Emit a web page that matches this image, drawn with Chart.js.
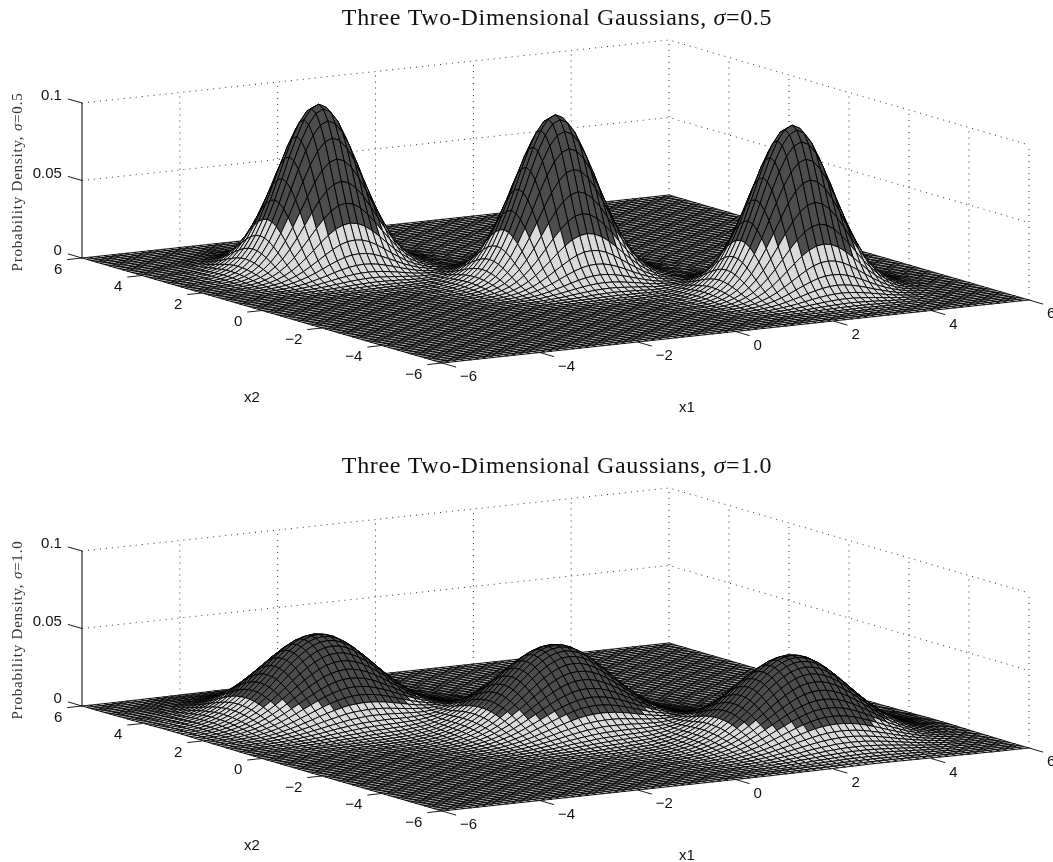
<!DOCTYPE html>
<html>
<head>
<meta charset="utf-8">
<title>Three Two-Dimensional Gaussians</title>
<script src="https://cdn.jsdelivr.net/npm/chart.js@4/dist/chart.umd.min.js"></script>
<style>
  body { margin: 0; background: #fff; width: 1053px; height: 862px; overflow: hidden; }
  canvas { display: block; }
</style>
</head>
<body>
<canvas id="panel1" width="1053" height="431"></canvas>
<canvas id="panel2" width="1053" height="431"></canvas>
<script>
const gridValues = [-6,-5.85,-5.7,-5.55,-5.4,-5.25,-5.1,-4.95,-4.8,-4.65,-4.5,-4.35,-4.2,-4.05,-3.9,-3.75,-3.6,-3.45,-3.3,-3.15,-3,-2.85,-2.7,-2.55,-2.4,-2.25,-2.1,-1.95,-1.8,-1.65,-1.5,-1.35,-1.2,-1.05,-0.9,-0.75,-0.6,-0.45,-0.3,-0.15,0,0.15,0.3,0.45,0.6,0.75,0.9,1.05,1.2,1.35,1.5,1.65,1.8,1.95,2.1,2.25,2.4,2.55,2.7,2.85,3,3.15,3.3,3.45,3.6,3.75,3.9,4.05,4.2,4.35,4.5,4.65,4.8,4.95,5.1,5.25,5.4,5.55,5.7,5.85,6];
const x1Ticks = [-6,-4,-2,0,2,4,6];
const x2Ticks = [-6,-4,-2,0,2,4,6];
const zTicks = [0,0.05,0.1];
const zTickLabels = ["0","0.05","0.1"];

// where the three peaks stand on the floor
const peakX1 = [-3,0,3];
const peakX2 = [3,0,-3];

// height of one peak (thousandths), one quadrant at 0.15 steps from its centre.
// anything past the end of a row is flat floor
const bumpSigma05 = [
  [106,103.6,96.9,86.6,74,60.4,47.2,35.2,25.1,17.1,11.2,7,4.2,2.4,1.3,0.7,0.3,0.2],
  [103.6,101.3,94.7,84.6,72.3,59,46.1,34.4,24.6,16.8,10.9,6.8,4.1,2.3,1.2,0.6,0.3,0.2],
  [96.9,94.7,88.6,79.1,67.6,55.2,43.1,32.2,23,15.7,10.2,6.4,3.8,2.1,1.2,0.6,0.3,0.1],
  [86.6,84.6,79.1,70.8,60.4,49.4,38.5,28.8,20.5,14,9.1,5.7,3.4,1.9,1,0.5,0.3,0.1],
  [74,72.3,67.6,60.4,51.6,42.2,32.9,24.6,17.5,12,7.8,4.9,2.9,1.6,0.9,0.4,0.2,0.1],
  [60.4,59,55.2,49.4,42.2,34.4,26.9,20.1,14.3,9.8,6.3,4,2.4,1.3,0.7,0.4,0.2,0.1],
  [47.2,46.1,43.1,38.5,32.9,26.9,21,15.7,11.2,7.6,5,3.1,1.8,1,0.6,0.3,0.1,0.1],
  [35.2,34.4,32.2,28.8,24.6,20.1,15.7,11.7,8.3,5.7,3.7,2.3,1.4,0.8,0.4,0.2,0.1,0.1],
  [25.1,24.6,23,20.5,17.5,14.3,11.2,8.3,5.9,4.1,2.6,1.7,1,0.6,0.3,0.2,0.1],
  [17.1,16.8,15.7,14,12,9.8,7.6,5.7,4.1,2.8,1.8,1.1,0.7,0.4,0.2,0.1,0.1],
  [11.2,10.9,10.2,9.1,7.8,6.3,5,3.7,2.6,1.8,1.2,0.7,0.4,0.2,0.1,0.1],
  [7,6.8,6.4,5.7,4.9,4,3.1,2.3,1.7,1.1,0.7,0.5,0.3,0.2,0.1],
  [4.2,4.1,3.8,3.4,2.9,2.4,1.8,1.4,1,0.7,0.4,0.3,0.2,0.1,0.1],
  [2.4,2.3,2.1,1.9,1.6,1.3,1,0.8,0.6,0.4,0.2,0.2,0.1,0.1],
  [1.3,1.2,1.2,1,0.9,0.7,0.6,0.4,0.3,0.2,0.1,0.1,0.1],
  [0.7,0.6,0.6,0.5,0.4,0.4,0.3,0.2,0.2,0.1,0.1],
  [0.3,0.3,0.3,0.3,0.2,0.2,0.1,0.1,0.1,0.1],
  [0.2,0.2,0.1,0.1,0.1,0.1,0.1,0.1]
];
const bumpSigma10 = [
  [53,52.4,50.7,47.9,44.3,40,35.4,30.5,25.8,21.3,17.2,13.6,10.5,7.9,5.8,4.2,3,2.1,1.4,0.9,0.6,0.4,0.2,0.1],
  [52.4,51.8,50.1,47.4,43.8,39.6,35,30.2,25.5,21.1,17,13.4,10.4,7.8,5.8,4.2,2.9,2,1.4,0.9,0.6,0.4,0.2,0.1],
  [50.7,50.1,48.5,45.8,42.3,38.3,33.8,29.2,24.7,20.4,16.5,13,10,7.6,5.6,4,2.8,2,1.3,0.9,0.6,0.4,0.2,0.1],
  [47.9,47.4,45.8,43.3,40,36.2,32,27.6,23.3,19.3,15.6,12.3,9.5,7.1,5.3,3.8,2.7,1.9,1.3,0.8,0.5,0.3,0.2,0.1],
  [44.3,43.8,42.3,40,37,33.4,29.5,25.5,21.6,17.8,14.4,11.3,8.8,6.6,4.9,3.5,2.5,1.7,1.2,0.8,0.5,0.3,0.2,0.1],
  [40,39.6,38.3,36.2,33.4,30.2,26.7,23,19.5,16.1,13,10.2,7.9,6,4.4,3.2,2.2,1.5,1,0.7,0.4,0.3,0.2,0.1],
  [35.4,35,33.8,32,29.5,26.7,23.6,20.4,17.2,14.2,11.5,9.1,7,5.3,3.9,2.8,2,1.4,0.9,0.6,0.4,0.2,0.2,0.1],
  [30.5,30.2,29.2,27.6,25.5,23,20.4,17.6,14.9,12.3,9.9,7.8,6,4.5,3.4,2.4,1.7,1.2,0.8,0.5,0.3,0.2,0.1,0.1],
  [25.8,25.5,24.7,23.3,21.6,19.5,17.2,14.9,12.6,10.4,8.4,6.6,5.1,3.8,2.8,2.1,1.4,1,0.7,0.4,0.3,0.2,0.1,0.1],
  [21.3,21.1,20.4,19.3,17.8,16.1,14.2,12.3,10.4,8.6,6.9,5.5,4.2,3.2,2.3,1.7,1.2,0.8,0.6,0.4,0.2,0.1,0.1,0.1],
  [17.2,17,16.5,15.6,14.4,13,11.5,9.9,8.4,6.9,5.6,4.4,3.4,2.6,1.9,1.4,1,0.7,0.4,0.3,0.2,0.1,0.1],
  [13.6,13.4,13,12.3,11.3,10.2,9.1,7.8,6.6,5.5,4.4,3.5,2.7,2,1.5,1.1,0.8,0.5,0.4,0.2,0.2,0.1,0.1],
  [10.5,10.4,10,9.5,8.8,7.9,7,6,5.1,4.2,3.4,2.7,2.1,1.6,1.2,0.8,0.6,0.4,0.3,0.2,0.1,0.1],
  [7.9,7.8,7.6,7.1,6.6,6,5.3,4.5,3.8,3.2,2.6,2,1.6,1.2,0.9,0.6,0.4,0.3,0.2,0.1,0.1,0.1],
  [5.8,5.8,5.6,5.3,4.9,4.4,3.9,3.4,2.8,2.3,1.9,1.5,1.2,0.9,0.6,0.5,0.3,0.2,0.2,0.1,0.1],
  [4.2,4.2,4,3.8,3.5,3.2,2.8,2.4,2.1,1.7,1.4,1.1,0.8,0.6,0.5,0.3,0.2,0.2,0.1,0.1],
  [3,2.9,2.8,2.7,2.5,2.2,2,1.7,1.4,1.2,1,0.8,0.6,0.4,0.3,0.2,0.2,0.1,0.1,0.1],
  [2.1,2,2,1.9,1.7,1.5,1.4,1.2,1,0.8,0.7,0.5,0.4,0.3,0.2,0.2,0.1,0.1,0.1],
  [1.4,1.4,1.3,1.3,1.2,1,0.9,0.8,0.7,0.6,0.4,0.4,0.3,0.2,0.2,0.1,0.1,0.1],
  [0.9,0.9,0.9,0.8,0.8,0.7,0.6,0.5,0.4,0.4,0.3,0.2,0.2,0.1,0.1,0.1,0.1],
  [0.6,0.6,0.6,0.5,0.5,0.4,0.4,0.3,0.3,0.2,0.2,0.2,0.1,0.1,0.1],
  [0.4,0.4,0.4,0.3,0.3,0.3,0.2,0.2,0.2,0.1,0.1,0.1,0.1,0.1],
  [0.2,0.2,0.2,0.2,0.2,0.2,0.2,0.1,0.1,0.1,0.1,0.1],
  [0.1,0.1,0.1,0.1,0.1,0.1,0.1,0.1,0.1,0.1]
];

const sigmaLabels = ["0.5","1.0"];
const lightBelow = [27.5,14.3];    // faces turn dark above this height

const CANVAS_H = 431;
const SANS = '"Liberation Sans", Arial, sans-serif';
const SERIF = '"Liberation Serif", "Times New Roman", serif';


function makeProject(shift){
  return function(x1, x2, z){
    const a = (x1 + 6) / 12;
    const b = (6 - x2) / 12;
    return {
      x: 82 + a * 587 + b * 360,
      y: 258 + shift - a * 63 + b * 105 - z * 1550
    };
  };
}


function buildSurface(bump){
  const n = gridValues.length;
  const z = [];
  for (let i = 0; i < n; i++){
    z.push(new Array(n).fill(0));
  }
  for (let p = 0; p < peakX1.length; p++){
    const ci = gridValues.indexOf(peakX1[p]);
    const cj = gridValues.indexOf(peakX2[p]);
    for (let i = 0; i < n; i++){
      for (let j = 0; j < n; j++){
        const row = bump[Math.abs(i - ci)];
        if (row && row[Math.abs(j - cj)] !== undefined){
          z[i][j] += row[Math.abs(j - cj)] / 1000;
        }
      }
    }
  }
  return z;
}


function lineSet(points, color, width, dash){
  return {
    data: points,
    showLine: true,
    fill: false,
    borderColor: color,
    borderWidth: width,
    borderDash: dash || [],
    pointRadius: 0,
    tension: 0
  };
}


function buildDatasets(panel, project){
  const sets = [];
  const dots = [1,5];
  const dotColor = "#303030";

  // back walls
  for (const z of zTicks.slice(1)){
    sets.push(lineSet([project(-6,6,z), project(6,6,z), project(6,-6,z)], dotColor, 1, dots));
  }
  for (const t of x1Ticks.slice(1)){
    sets.push(lineSet([project(t,6,0), project(t,6,0.1)], dotColor, 1, dots));
  }
  for (const t of x2Ticks){
    if (t !== 6){
      sets.push(lineSet([project(6,t,0), project(6,t,0.1)], dotColor, 1, dots));
    }
  }

  // surface, far cells first. the long dash keeps chart.js off its fast path, which merges close points
  const z = buildSurface(panel === 0 ? bumpSigma05 : bumpSigma10);
  const limit = lightBelow[panel] / 1000;
  for (let i = gridValues.length - 2; i >= 0; i--){
    for (let j = gridValues.length - 2; j >= 0; j--){
      const x1a = gridValues[i], x1b = gridValues[i + 1];
      const x2a = gridValues[j], x2b = gridValues[j + 1];
      const set = lineSet([
        project(x1a, x2a, z[i][j]),
        project(x1b, x2a, z[i + 1][j]),
        project(x1b, x2b, z[i + 1][j + 1]),
        project(x1a, x2b, z[i][j + 1]),
        project(x1a, x2a, z[i][j])
      ], "#000", 0.9, [1000,0]);
      set.fill = "shape";
      set.backgroundColor = z[i][j] > limit ? "#4d4d4d" : "#dadada";
      sets.push(set);
    }
  }

  // axes and ticks
  sets.push(lineSet([project(-6,6,0), project(-6,6,0.1)], "#000", 1));
  for (const t of zTicks){
    sets.push(lineSet([project(-6,6,t), project(-6,6.47,t)], "#000", 0.9));
  }
  for (const t of x2Ticks){
    sets.push(lineSet([project(-6,t,0), project(-6.3,t,0)], "#000", 0.9));
  }
  for (const t of x1Ticks){
    sets.push(lineSet([project(t,-6,0), project(t,-6.47,0)], "#000", 0.9));
  }

  // first dataset is painted last
  return sets.reverse();
}


function tickText(v){
  return v < 0 ? "\u2212" + Math.abs(v) : String(v);
}


function drawParts(ctx, parts, x, y, size, spacing){
  ctx.letterSpacing = spacing + "px";
  let width = 0;
  for (const part of parts){
    ctx.font = `${part.italic ? "italic " : ""}${size}px ${SERIF}`;
    width += ctx.measureText(part.text).width;
  }
  let left = x - width / 2;
  ctx.textAlign = "left";
  for (const part of parts){
    ctx.font = `${part.italic ? "italic " : ""}${size}px ${SERIF}`;
    ctx.fillText(part.text, left, y);
    left += ctx.measureText(part.text).width;
  }
  ctx.letterSpacing = "0px";
}


function textPlugin(panel, project, shift){
  return {
    id: "panelText",
    afterDraw(chart){
      const ctx = chart.ctx;
      const sigma = sigmaLabels[panel];
      ctx.save();
      ctx.fillStyle = "#111";
      ctx.textBaseline = "middle";

      drawParts(ctx, [
        {text: "Three Two-Dimensional Gaussians, "},
        {text: "\u03c3", italic: true},
        {text: "=" + sigma}
      ], 557, 19 + shift, 24, 0.65);

      ctx.font = `15px ${SANS}`;
      ctx.textAlign = "right";
      zTicks.forEach((t, k) => {
        const p = project(-6, 6.47, t);
        ctx.fillText(zTickLabels[k], p.x - 6, p.y - 3);
      });
      for (const t of x2Ticks){
        const p = project(-6.3, t, 0);
        ctx.fillText(tickText(t), p.x - 5, p.y + 10);
      }
      ctx.textAlign = "left";
      for (const t of x1Ticks){
        const p = project(t, -6.47, 0);
        ctx.fillText(tickText(t), p.x + 4, p.y + 10);
      }

      ctx.textAlign = "center";
      ctx.fillText("x1", 687, 408 + shift);
      ctx.fillText("x2", 252, 398 + shift);

      ctx.translate(18, 182 + shift);
      ctx.rotate(-Math.PI / 2);
      ctx.fillStyle = "#333";
      drawParts(ctx, [
        {text: "Probability Density, "},
        {text: "\u03c3", italic: true},
        {text: "=" + sigma}
      ], 0, 0, 15, 0.8);
      ctx.restore();
    }
  };
}


function renderPanel(canvasId, panel){
  const shift = panel === 0 ? 0 : 17;
  const project = makeProject(shift);
  new Chart(canvasId, {
    type: "scatter",
    data: {datasets: buildDatasets(panel, project)},
    options: {
      responsive: false,
      animation: false,
      events: [],
      layout: {padding: 0},
      plugins: {legend: {display: false}, title: {display: false}, tooltip: {enabled: false}},
      scales: {
        x: {type: "linear", min: 0, max: 1053, display: false},
        y: {type: "linear", min: 0, max: CANVAS_H, reverse: true, display: false}
      }
    },
    plugins: [textPlugin(panel, project, shift)]
  });
}


renderPanel("panel1", 0);
renderPanel("panel2", 1);
</script>
</body>
</html>
